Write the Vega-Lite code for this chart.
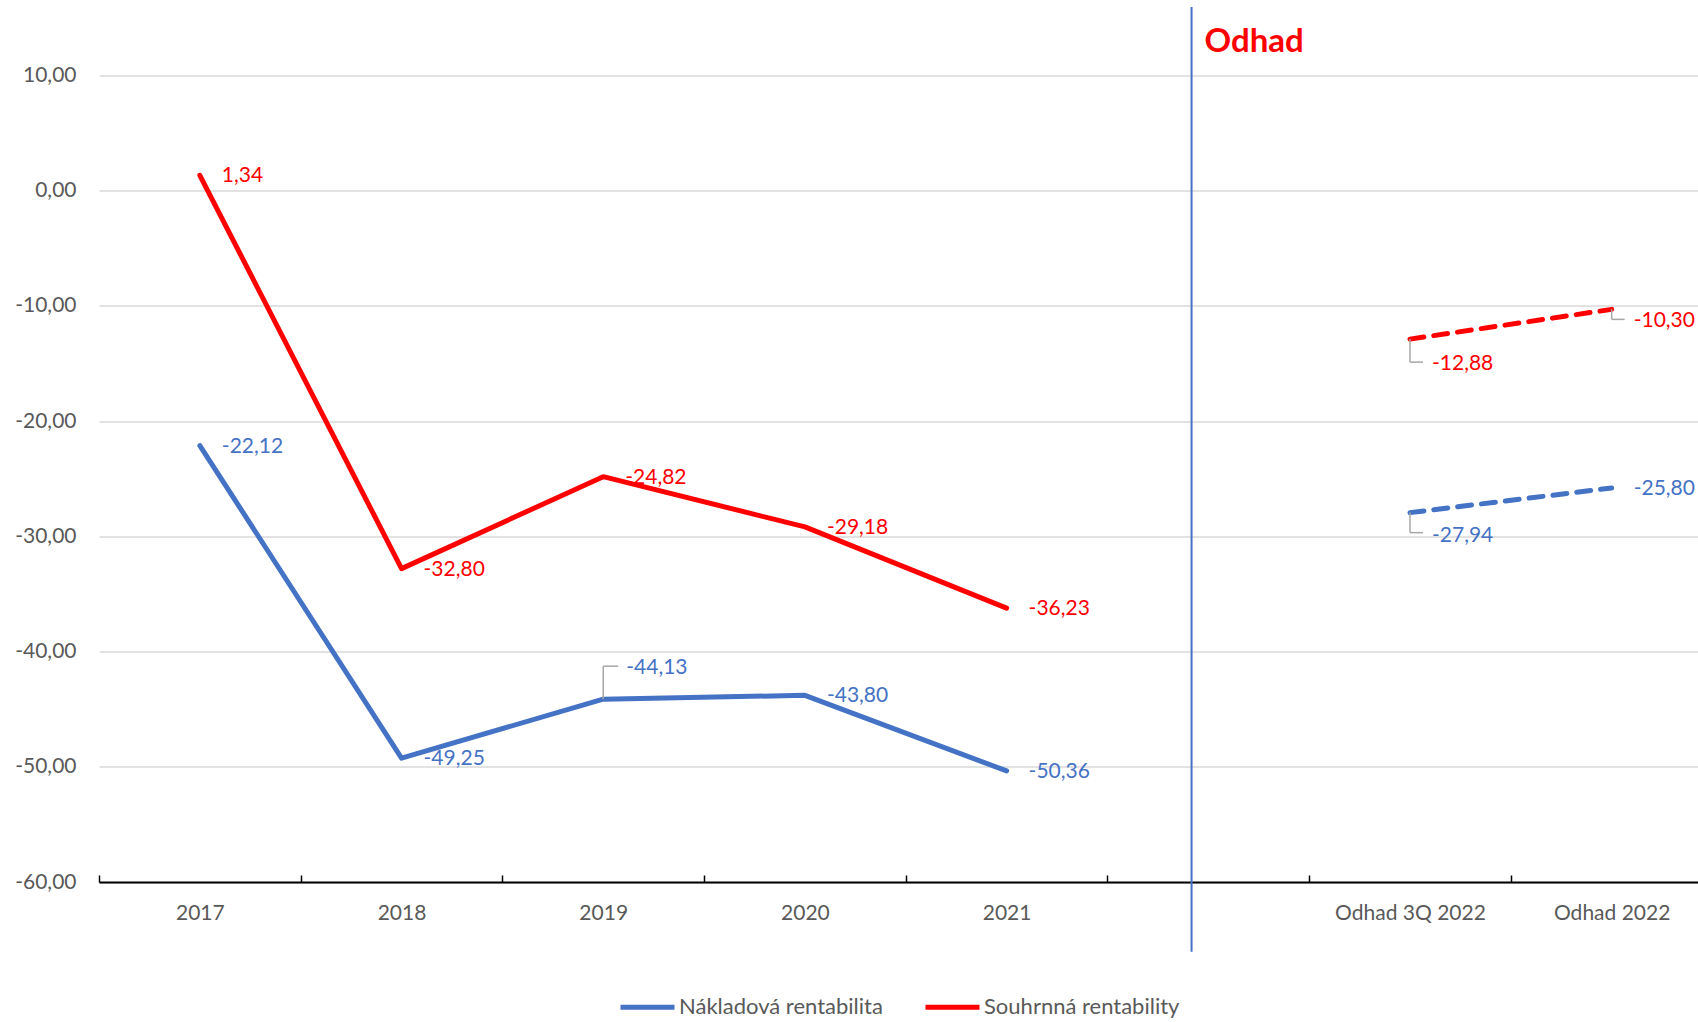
{
  "$schema": "https://vega.github.io/schema/vega-lite/v6.json",
  "width": 1599,
  "height": 806.5,
  "autosize": {"type": "none"},
  "padding": {"left": 99, "top": 75.5, "right": 0, "bottom": 140},
  "background": "white",
  "config": {
    "locale": {"number": {"decimal": ",", "thousands": " ", "grouping": [3], "currency": ["", " Kč"], "minus": "-"}},
    "view": {"stroke": null},
    "font": "Lato",
    "text": {"font": "Lato"}
  },
  "datasets": {
    "rentabilita": [
      {"i": 0, "obdobi": "2017", "series": "Nákladová rentabilita", "value": -22.12, "faze": "skutečnost"},
      {"i": 1, "obdobi": "2018", "series": "Nákladová rentabilita", "value": -49.25, "faze": "skutečnost"},
      {"i": 2, "obdobi": "2019", "series": "Nákladová rentabilita", "value": -44.13, "faze": "skutečnost"},
      {"i": 3, "obdobi": "2020", "series": "Nákladová rentabilita", "value": -43.80, "faze": "skutečnost"},
      {"i": 4, "obdobi": "2021", "series": "Nákladová rentabilita", "value": -50.36, "faze": "skutečnost"},
      {"i": 6, "obdobi": "Odhad 3Q 2022", "series": "Nákladová rentabilita", "value": -27.94, "faze": "odhad"},
      {"i": 7, "obdobi": "Odhad 2022", "series": "Nákladová rentabilita", "value": -25.80, "faze": "odhad"},
      {"i": 0, "obdobi": "2017", "series": "Souhrnná rentability", "value": 1.34, "faze": "skutečnost"},
      {"i": 1, "obdobi": "2018", "series": "Souhrnná rentability", "value": -32.80, "faze": "skutečnost"},
      {"i": 2, "obdobi": "2019", "series": "Souhrnná rentability", "value": -24.82, "faze": "skutečnost"},
      {"i": 3, "obdobi": "2020", "series": "Souhrnná rentability", "value": -29.18, "faze": "skutečnost"},
      {"i": 4, "obdobi": "2021", "series": "Souhrnná rentability", "value": -36.23, "faze": "skutečnost"},
      {"i": 6, "obdobi": "Odhad 3Q 2022", "series": "Souhrnná rentability", "value": -12.88, "faze": "odhad"},
      {"i": 7, "obdobi": "Odhad 2022", "series": "Souhrnná rentability", "value": -10.30, "faze": "odhad"}
    ]
  },
  "layer": [
    {
      "data": {"name": "rentabilita"},
      "encoding": {
        "x": {
          "field": "i",
          "type": "quantitative",
          "scale": {"domain": [-0.5, 7.428], "nice": false, "zero": false},
          "axis": {
            "values": [-0.5, 0, 0.5, 1, 1.5, 2, 2.5, 3, 3.5, 4, 4.5, 5, 5.5, 6, 6.5, 7],
            "title": null,
            "grid": false,
            "domain": true,
            "domainColor": "#000000",
            "domainWidth": 1.8,
            "ticks": true,
            "tickSize": -7,
            "tickWidth": 1.5,
            "tickColor": "#000000",
            "tickOpacity": {"condition": {"test": "datum.value % 1 == 0", "value": 0}, "value": 1},
            "labelExpr": "datum.value % 1 != 0 ? '' : ['2017','2018','2019','2020','2021','','Odhad 3Q 2022','Odhad 2022'][datum.value]",
            "labelOverlap": false,
            "labelFlush": false,
            "labelBound": false,
            "labelPadding": 38,
            "labelBaseline": "middle",
            "labelFont": "Lato",
            "labelFontSize": 21,
            "labelColor": "#595959"
          }
        },
        "y": {
          "field": "value",
          "type": "quantitative",
          "scale": {"domain": [-60, 10], "nice": false, "zero": false},
          "axis": {
            "values": [-60, -50, -40, -30, -20, -10, 0, 10],
            "format": ".2f",
            "title": null,
            "grid": true,
            "gridColor": "#D9D9D9",
            "gridWidth": 1.3,
            "domain": false,
            "ticks": false,
            "labelPadding": 23,
            "labelFont": "Lato",
            "labelFontSize": 21,
            "labelColor": "#595959"
          }
        }
      },
      "layer": [
        {
          "transform": [{"filter": "datum.faze == 'skutečnost'"}],
          "mark": {"type": "line", "strokeWidth": 5, "strokeCap": "round", "strokeJoin": "round"},
          "encoding": {
            "color": {
              "field": "series",
              "type": "nominal",
              "scale": {"domain": ["Nákladová rentabilita", "Souhrnná rentability"], "range": ["#4472C4", "#FF0000"]},
              "legend": {
                "orient": "none",
                "legendX": 519,
                "legendY": 902,
                "direction": "horizontal",
                "title": null,
                "symbolType": "stroke",
                "symbolSize": 2916,
                "symbolStrokeWidth": 5,
                "labelFont": "Lato",
                "labelFontSize": 22,
                "labelColor": "#595959",
                "labelLimit": 0,
                "columnPadding": 32,
                "labelOffset": 2,
                "padding": 0
              }
            }
          }
        },
        {
          "transform": [{"filter": "datum.faze == 'odhad'"}],
          "mark": {"type": "line", "strokeWidth": 5, "strokeCap": "round", "strokeDash": [14, 10]},
          "encoding": {
            "color": {
              "field": "series",
              "type": "nominal",
              "scale": {"domain": ["Nákladová rentabilita", "Souhrnná rentability"], "range": ["#4472C4", "#FF0000"]}
            }
          }
        },
        {
          "transform": [{"filter": "datum.series == 'Nákladová rentabilita' && datum.i == 2"}],
          "mark": {"type": "rule", "color": "#A6A6A6", "strokeWidth": 1.5, "y2Offset": -33},
          "encoding": {"y2": {"field": "value"}}
        },
        {
          "transform": [{"filter": "datum.series == 'Nákladová rentabilita' && datum.i == 2"}],
          "mark": {"type": "rule", "color": "#A6A6A6", "strokeWidth": 1.5, "yOffset": -33, "y2Offset": -33, "x2Offset": 15},
          "encoding": {"x2": {"field": "i"}, "y2": {"field": "value"}}
        },
        {
          "transform": [{"filter": "datum.series == 'Nákladová rentabilita' && datum.i == 6"}],
          "mark": {"type": "rule", "color": "#A6A6A6", "strokeWidth": 1.5, "y2Offset": 20},
          "encoding": {"y2": {"field": "value"}}
        },
        {
          "transform": [{"filter": "datum.series == 'Nákladová rentabilita' && datum.i == 6"}],
          "mark": {"type": "rule", "color": "#A6A6A6", "strokeWidth": 1.5, "yOffset": 20, "y2Offset": 20, "x2Offset": 13},
          "encoding": {"x2": {"field": "i"}, "y2": {"field": "value"}}
        },
        {
          "transform": [{"filter": "datum.series == 'Souhrnná rentability' && datum.i == 6"}],
          "mark": {"type": "rule", "color": "#A6A6A6", "strokeWidth": 1.5, "y2Offset": 23},
          "encoding": {"y2": {"field": "value"}}
        },
        {
          "transform": [{"filter": "datum.series == 'Souhrnná rentability' && datum.i == 6"}],
          "mark": {"type": "rule", "color": "#A6A6A6", "strokeWidth": 1.5, "yOffset": 23, "y2Offset": 23, "x2Offset": 13},
          "encoding": {"x2": {"field": "i"}, "y2": {"field": "value"}}
        },
        {
          "transform": [{"filter": "datum.series == 'Souhrnná rentability' && datum.i == 7"}],
          "mark": {"type": "rule", "color": "#A6A6A6", "strokeWidth": 1.5, "y2Offset": 10},
          "encoding": {"y2": {"field": "value"}}
        },
        {
          "transform": [{"filter": "datum.series == 'Souhrnná rentability' && datum.i == 7"}],
          "mark": {"type": "rule", "color": "#A6A6A6", "strokeWidth": 1.5, "yOffset": 10, "y2Offset": 10, "x2Offset": 13},
          "encoding": {"x2": {"field": "i"}, "y2": {"field": "value"}}
        },
        {
          "transform": [{"filter": "datum.series == 'Nákladová rentabilita' && indexof([0,1,3,4,7], datum.i) >= 0"}],
          "mark": {"type": "text", "align": "left", "baseline": "middle", "dx": 22, "dy": 1, "font": "Lato", "fontSize": 21, "color": "#4472C4"},
          "encoding": {"text": {"field": "value", "type": "quantitative", "format": ".2f"}}
        },
        {
          "transform": [{"filter": "datum.series == 'Souhrnná rentability' && datum.i <= 4"}],
          "mark": {"type": "text", "align": "left", "baseline": "middle", "dx": 22, "dy": 1, "font": "Lato", "fontSize": 21, "color": "#FF0000"},
          "encoding": {"text": {"field": "value", "type": "quantitative", "format": ".2f"}}
        },
        {
          "transform": [{"filter": "datum.series == 'Nákladová rentabilita' && datum.i == 2"}],
          "mark": {"type": "text", "align": "left", "baseline": "middle", "dx": 23, "dy": -31, "font": "Lato", "fontSize": 21, "color": "#4472C4"},
          "encoding": {"text": {"field": "value", "type": "quantitative", "format": ".2f"}}
        },
        {
          "transform": [{"filter": "datum.series == 'Nákladová rentabilita' && datum.i == 6"}],
          "mark": {"type": "text", "align": "left", "baseline": "middle", "dx": 22, "dy": 23, "font": "Lato", "fontSize": 21, "color": "#4472C4"},
          "encoding": {"text": {"field": "value", "type": "quantitative", "format": ".2f"}}
        },
        {
          "transform": [{"filter": "datum.series == 'Souhrnná rentability' && datum.i == 6"}],
          "mark": {"type": "text", "align": "left", "baseline": "middle", "dx": 22, "dy": 25, "font": "Lato", "fontSize": 21, "color": "#FF0000"},
          "encoding": {"text": {"field": "value", "type": "quantitative", "format": ".2f"}}
        },
        {
          "transform": [{"filter": "datum.series == 'Souhrnná rentability' && datum.i == 7"}],
          "mark": {"type": "text", "align": "left", "baseline": "middle", "dx": 22, "dy": 12, "font": "Lato", "fontSize": 21, "color": "#FF0000"},
          "encoding": {"text": {"field": "value", "type": "quantitative", "format": ".2f"}}
        }
      ]
    },
    {
      "data": {"values": [{"oddelovac": "Odhad"}]},
      "mark": {"type": "rule", "color": "#4472C4", "strokeWidth": 2, "clip": false},
      "encoding": {
        "x": {"datum": 4.917, "type": "quantitative", "title": null},
        "y": {"datum": 15.95, "type": "quantitative", "title": null},
        "y2": {"datum": -66.05}
      }
    },
    {
      "data": {"values": [{"nadpis": "Odhad"}]},
      "mark": {"type": "text", "align": "left", "baseline": "alphabetic", "dx": 13, "font": "Lato", "fontSize": 33, "fontWeight": "bold", "color": "#FF0000"},
      "encoding": {
        "x": {"datum": 4.917, "type": "quantitative", "title": null},
        "y": {"datum": 12.04, "type": "quantitative", "title": null},
        "text": {"field": "nadpis"}
      }
    }
  ]
}
